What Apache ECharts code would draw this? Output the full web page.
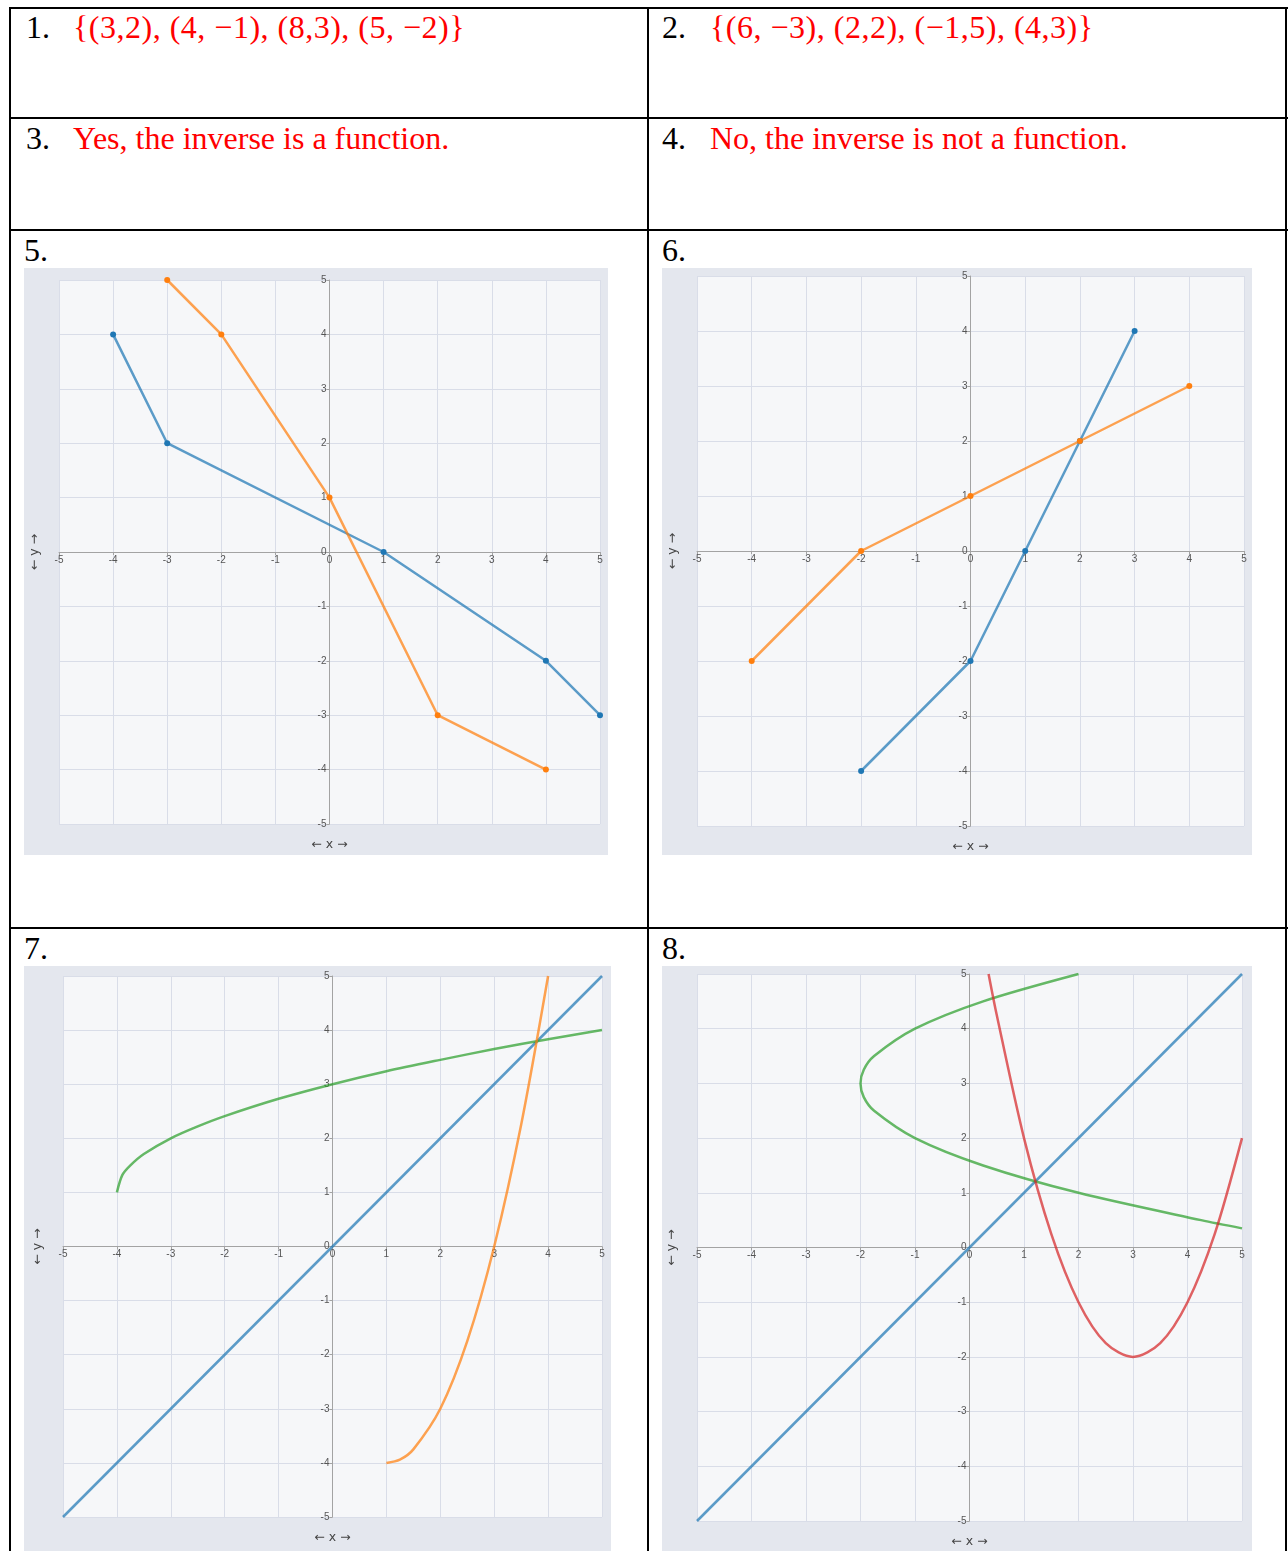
<!DOCTYPE html>
<html>
<head>
<meta charset="utf-8">
<script src="https://cdn.jsdelivr.net/npm/echarts@6/dist/echarts.min.js"></script>
<style>
  body { margin: 0; width: 1288px; height: 1551px; overflow: hidden; background: #fff; position: relative; }
  .rule { position: absolute; background: #000; }
  .txt { position: absolute; font-family: "Liberation Serif", "Times New Roman", serif; font-size: 32px; line-height: 32px; white-space: nowrap; color: #000; }
  .ans { color: #ff0000; letter-spacing: 0.5px; }
  .chart { position: absolute; }
</style>
</head>
<body>
<!-- table rules -->
<div class="rule" style="left:9px;top:7px;width:1279px;height:2px"></div>
<div class="rule" style="left:9px;top:117px;width:1279px;height:2px"></div>
<div class="rule" style="left:9px;top:229px;width:1279px;height:2px"></div>
<div class="rule" style="left:9px;top:927px;width:1279px;height:2px"></div>
<div class="rule" style="left:9px;top:7px;width:2px;height:1544px"></div>
<div class="rule" style="left:647px;top:7px;width:2px;height:1544px"></div>
<div class="rule" style="left:1285px;top:7px;width:2px;height:1544px"></div>

<div class="txt" style="left:26px;top:11px">1.</div>
<div class="txt ans" style="left:73px;top:11px">{(3,2), (4, −1), (8,3), (5, −2)}</div>
<div class="txt" style="left:662px;top:11px">2.</div>
<div class="txt ans" style="left:710px;top:11px">{(6, −3), (2,2), (−1,5), (4,3)}</div>
<div class="txt" style="left:26px;top:122px">3.</div>
<div class="txt ans" style="left:73px;top:122px;letter-spacing:0">Yes, the inverse is a function.</div>
<div class="txt" style="left:662px;top:122px">4.</div>
<div class="txt ans" style="left:710px;top:122px;letter-spacing:0">No, the inverse is not a function.</div>
<div class="txt" style="left:24px;top:234px">5.</div>
<div class="txt" style="left:662px;top:234px">6.</div>
<div class="txt" style="left:24px;top:932px">7.</div>
<div class="txt" style="left:662px;top:932px">8.</div>

<div class="chart" id="chart5" style="left:24px;top:268px;width:584px;height:587px"></div>
<div class="chart" id="chart6" style="left:662px;top:268px;width:590px;height:587px"></div>
<div class="chart" id="chart7" style="left:24px;top:966px;width:587px;height:585px"></div>
<div class="chart" id="chart8" style="left:662px;top:966px;width:590px;height:585px"></div>

<script>
const axisTicks = [-5, -4, -3, -2, -1, 0, 1, 2, 3, 4, 5];

// 5.
const p5Blue = [[-4, 4], [-3, 2], [1, 0], [4, -2], [5, -3]];
const p5Orange = [[-3, 5], [-2, 4], [0, 1], [2, -3], [4, -4]];

// 6.
const p6Blue = [[-2, -4], [0, -2], [1, 0], [2, 2], [3, 4]];
const p6Orange = [[-4, -2], [-2, 0], [0, 1], [2, 2], [4, 3]];

// 7.
const p7Blue = [[-5, -5], [5, 5]];
const p7Green = [[-4, 1], [-3.9, 1.32], [-3.75, 1.5], [-3.5, 1.71], [-3, 2], [-2.5, 2.22], [-2, 2.41],
  [-1, 2.73], [0, 3], [1, 3.24], [2, 3.45], [3, 3.65], [4, 3.83], [5, 4]];
const p7Orange = [[1, -4], [1.25, -3.94], [1.5, -3.75], [2, -3], [2.5, -1.75], [3, 0], [3.5, 2.25], [4, 5]];

// 8.
const p8Blue = [[-5, -5], [5, 5]];
const p8Green = [[2, 5], [0.25, 4.5], [-1, 4], [-1.75, 3.5], [-1.94, 3.25], [-2, 3], [-1.94, 2.75],
  [-1.75, 2.5], [-1, 2], [0.25, 1.5], [2, 1], [4.25, 0.5], [5, 0.35]];
const p8Red = [[0.35, 5], [0.5, 4.25], [1, 2], [1.5, 0.25], [2, -1], [2.5, -1.75], [3, -2],
  [3.5, -1.75], [4, -1], [4.5, 0.25], [5, 2]];

const blue = '#1f77b4', orange = '#ff7f0e', green = '#2ca02c', red = '#d62728';

// axes sit in the middle of the grid (range is symmetric round 0)
function valueAxis(offset) {
  return {
    type: 'value',
    min: axisTicks[0],
    max: axisTicks[axisTicks.length - 1],
    interval: 1,
    offset: offset,
    axisLine: { onZero: false, lineStyle: { color: '#a3a3a3', width: 1 } },
    axisTick: { show: true, length: 3, lineStyle: { color: '#a3a3a3' } },
    axisLabel: { fontSize: 10, color: '#555', margin: 3, fontFamily: 'Liberation Sans, Arial, sans-serif' },
    splitLine: { lineStyle: { color: '#d9dde8', width: 1 } }
  };
}

function lineSeries(data, color, opts) {
  return Object.assign({
    type: 'line',
    data: data,
    showSymbol: false,
    symbol: 'circle',
    symbolSize: 6,
    itemStyle: { color: color },
    lineStyle: { color: color, width: 2.5, opacity: 0.72 },
    emphasis: { disabled: true }
  }, opts || {});
}

function makeChart(id, grid, yLabelX, series) {
  const chart = echarts.init(document.getElementById(id));
  chart.setOption({
    animation: false,
    backgroundColor: '#e4e7ee',
    grid: Object.assign({ show: true, backgroundColor: '#f6f7f9', borderWidth: 0 }, grid),
    xAxis: valueAxis(-grid.height / 2),
    yAxis: valueAxis(-grid.width / 2),
    graphic: [
      {
        type: 'text', x: yLabelX, y: grid.top + grid.height / 2, rotation: Math.PI / 2,
        style: { text: '← y →', fill: '#444', font: '12.5px "DejaVu Sans", sans-serif', align: 'center', verticalAlign: 'middle' }
      },
      {
        type: 'text', x: grid.left + grid.width / 2, y: grid.top + grid.height + 21,
        style: { text: '← x →', fill: '#444', font: '12.5px "DejaVu Sans", sans-serif', align: 'center', verticalAlign: 'middle' }
      }
    ],
    series: series
  });
  return chart;
}

makeChart('chart5', { left: 35, top: 12, width: 541, height: 544 }, 11, [
  lineSeries(p5Blue, blue, { showSymbol: true }),
  lineSeries(p5Orange, orange, { showSymbol: true })
]);

makeChart('chart6', { left: 35, top: 8, width: 547, height: 550 }, 11, [
  lineSeries(p6Blue, blue, { showSymbol: true }),
  lineSeries(p6Orange, orange, { showSymbol: true })
]);

makeChart('chart7', { left: 39, top: 10, width: 539, height: 541 }, 14, [
  lineSeries(p7Blue, blue),
  lineSeries(p7Green, green, { smooth: 0.3 }),
  lineSeries(p7Orange, orange, { smooth: 0.3 })
]);

makeChart('chart8', { left: 35, top: 8, width: 545, height: 547 }, 10, [
  lineSeries(p8Blue, blue),
  lineSeries(p8Green, green, { smooth: 0.3 }),
  lineSeries(p8Red, red, { smooth: 0.3 })
]);
</script>
</body>
</html>
